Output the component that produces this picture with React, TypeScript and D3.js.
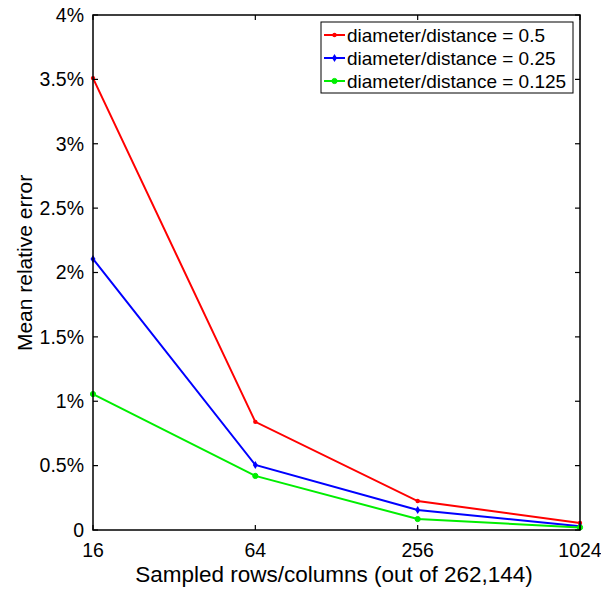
import React from "react";
import * as d3 from "d3";

const xCategories = [16, 64, 256, 1024];
const yTicks = [0, 0.5, 1, 1.5, 2, 2.5, 3, 3.5, 4];
const seriesNames = ["diameter/distance = 0.5", "diameter/distance = 0.25", "diameter/distance = 0.125"];
const red = [3.51, 0.84, 0.225, 0.055];
const blue = [2.105, 0.505, 0.155, 0.03];
const green = [1.056, 0.42, 0.085, 0.02];
const colors = ["#ff0000", "#0000ff", "#00ee00"];
const markers = ["dot", "diamond", "circle"];

export default function App() {
  const W = 601, H = 591;
  const L = 93, R = 580, T = 15, B = 530;
  const x = d3.scaleLog().base(2).domain([16, 1024]).range([L, R]);
  const y = d3.scaleLinear().domain([0, 4]).range([B, T]);
  const series = [red, blue, green];
  const line = d3.line<number>().x((_, i) => x(xCategories[i])).y((d) => y(d));
  const font = "Liberation Sans, Arial, Helvetica, sans-serif";
  const fmt = (v: number) => (v === 0 ? "0" : `${v}%`);
  const tl = 5;
  const marker = (m: string, c: string, cx: number, cy: number, k: string) => {
    if (m === "dot") return <circle key={k} cx={cx} cy={cy} r={2.2} fill={c} />;
    if (m === "diamond")
      return <path key={k} d={`M${cx},${cy - 4}L${cx + 2.5},${cy}L${cx},${cy + 4}L${cx - 2.5},${cy}Z`} fill={c} />;
    return <circle key={k} cx={cx} cy={cy} r={2.6} fill={c} stroke={c} strokeWidth={1} />;
  };
  const legX = 321, legY = 22, legW = 252, legH = 71;
  return (
    <svg width={W} height={H} style={{ position: "absolute", left: 0, top: 0 }} fontFamily={font}>
      <rect x={0} y={0} width={W} height={H} fill="#fff" />
      {series.map((s, si) => (
        <g key={si}>
          <path d={line(s) || ""} fill="none" stroke={colors[si]} strokeWidth={2} />
          {s.map((v, i) => marker(markers[si], colors[si], x(xCategories[i]), y(v), `${si}-${i}`))}
        </g>
      ))}
      <rect x={L} y={T} width={R - L} height={B - T} fill="none" stroke="#000" strokeWidth={1.5} />
      {yTicks.map((t) => (
        <g key={t}>
          <line x1={L} x2={L + tl} y1={y(t)} y2={y(t)} stroke="#000" strokeWidth={1.2} />
          <line x1={R} x2={R - tl} y1={y(t)} y2={y(t)} stroke="#000" strokeWidth={1.2} />
          <text x={L - 9} y={y(t)} dy="0.35em" textAnchor="end" fontSize={19.5}>{fmt(t)}</text>
        </g>
      ))}
      {xCategories.map((t) => (
        <g key={t}>
          <line x1={x(t)} x2={x(t)} y1={B} y2={B - tl} stroke="#000" strokeWidth={1.2} />
          <line x1={x(t)} x2={x(t)} y1={T} y2={T + tl} stroke="#000" strokeWidth={1.2} />
          <text x={x(t)} y={557} textAnchor="middle" fontSize={19.5}>{t}</text>
        </g>
      ))}
      <text x={334} y={582} textAnchor="middle" fontSize={22.5}>Sampled rows/columns (out of 262,144)</text>
      <text transform={`translate(32,263) rotate(-90)`} textAnchor="middle" fontSize={21}>Mean relative error</text>
      <rect x={legX} y={legY} width={legW} height={legH} fill="#fff" stroke="#000" strokeWidth={1} />
      {seriesNames.map((n, i) => {
        const cy = legY + 13 + i * 23;
        return (
          <g key={n}>
            <line x1={legX + 3} x2={legX + 24} y1={cy} y2={cy} stroke={colors[i]} strokeWidth={2} />
            {marker(markers[i], colors[i], legX + 13.5, cy, `l${i}`)}
            <text x={legX + 26} y={cy} dy="0.35em" fontSize={19}>{n}</text>
          </g>
        );
      })}
    </svg>
  );
}
